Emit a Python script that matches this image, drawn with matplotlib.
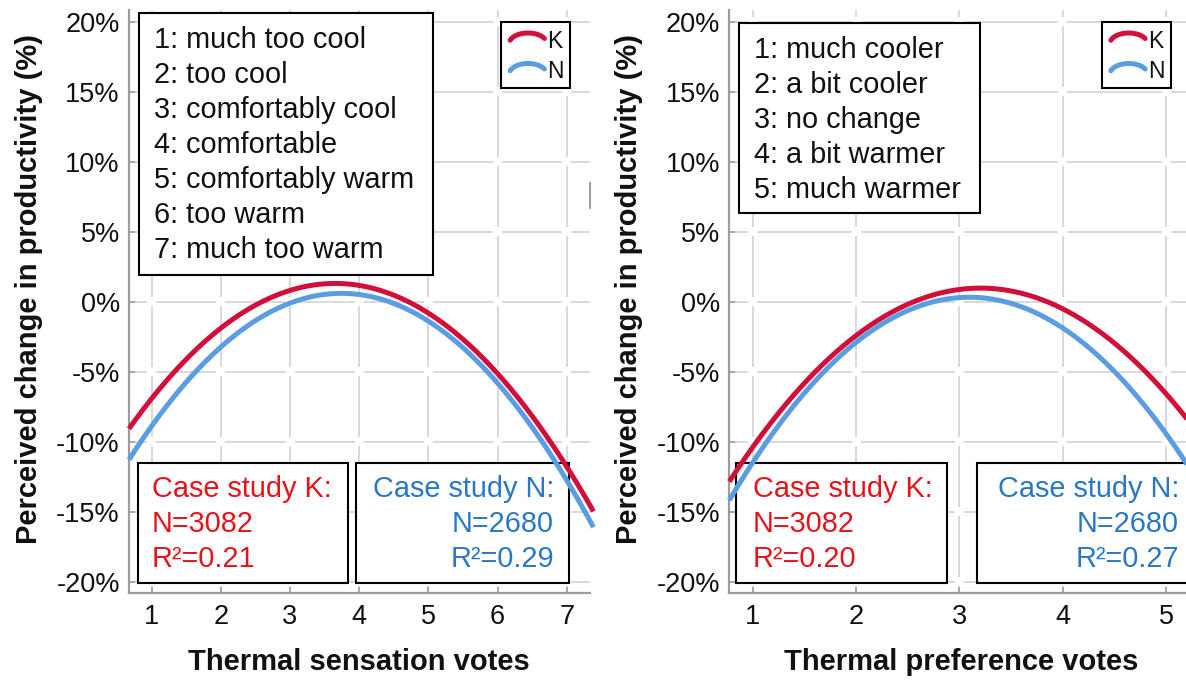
import numpy as np
import matplotlib
matplotlib.use("Agg")
import matplotlib.pyplot as plt
from matplotlib.transforms import Affine2D
from matplotlib.patches import Rectangle

plt.rcParams['font.family'] = ['Liberation Sans', 'DejaVu Sans']

# ---------------- data ----------------
tsv_votes = [1, 2, 3, 4, 5, 6, 7]
tsv_K = [-6.9, -1.9, 0.8, 1.15, -0.8, -5.1, -11.8]
tsv_N = [-8.9, -3.2, -0.1, 0.5, -1.4, -5.8, -12.75]

tpv_votes = [1, 2, 3, 4, 5]
tpv_K = [-10.4, -2.4, 0.85, -0.5, -6.6]
tpv_N = [-11.5, -2.9, 0.3, -1.9, -9.45]

yticks = [-20, -15, -10, -5, 0, 5, 10, 15, 20]
ytick_labels = ["-20%", "-15%", "-10%", "-5%", "0%", "5%", "10%", "15%", "20%"]

tsv_scale = ["1: much too cool", "2: too cool", "3: comfortably cool",
             "4: comfortable", "5: comfortably warm", "6: too warm",
             "7: much too warm"]
tpv_scale = ["1: much cooler", "2: a bit cooler", "3: no change",
             "4: a bit warmer", "5: much warmer"]

tsv_stats_K = ["Case study K:", "N=3082", "R\u00b2=0.21"]
tsv_stats_N = ["Case study N:", "N=2680", "R\u00b2=0.29"]
tpv_stats_K = ["Case study K:", "N=3082", "R\u00b2=0.20"]
tpv_stats_N = ["Case study N:", "N=2680", "R\u00b2=0.27"]

series_names = ["K", "N"]
ylabel = "Perceived change in productivity (%)"
xlabels = ["Thermal sensation votes", "Thermal preference votes"]

# ---------------- style ----------------
C_K = "#d0103a"
C_N = "#5b9de3"
T_K = "#e3151c"
T_N = "#2a78c2"
GRID = "#d0d0d0"
AXC = "#9c9c9c"
TXT = "#111111"

W, H = 1186, 680
fig = plt.figure(figsize=(W / 100, H / 100), dpi=100)
px = Affine2D().scale(1 / W, -1 / H).translate(0, 1) + fig.transFigure

TOP, BOT = 10.0, 592.7
PX_PER_PCT = 14.0
ZERO = 301.7
YLIM = (-(BOT - ZERO) / PX_PER_PCT, (ZERO - TOP) / PX_PER_PCT)


def panel(left_px, right_px, xlim, votes, K, N, xlabel, xlabel_cx,
          scale_lines, scale_box, stats_K, boxK, stats_N, boxN, leg_x):
    ax = fig.add_axes([left_px / W, 1 - BOT / H, (right_px - left_px) / W,
                       (BOT - TOP) / H])
    ax.set_xlim(*xlim)
    ax.set_ylim(*YLIM)
    ax.patch.set_alpha(0)

    # gridlines with small gaps at intersections
    ppx = (right_px - left_px) / (xlim[1] - xlim[0])
    gx = 4.5 / ppx
    gy = 4.5 / PX_PER_PCT
    xb = [xlim[0]] + list(votes) + [xlim[1]]
    for y in yticks:
        for a, b in zip(xb[:-1], xb[1:]):
            a2 = a + gx if a in votes else a
            b2 = b - gx if b in votes else b
            ax.plot([a2, b2], [y, y], color=GRID, lw=1.1, zorder=1,
                    solid_capstyle='butt')
    yb = [YLIM[0]] + yticks + [YLIM[1]]
    for x in votes:
        for a, b in zip(yb[:-1], yb[1:]):
            a2 = a + gy if a in yticks else a
            b2 = b - gy if b in yticks else b
            ax.plot([x, x], [a2, b2], color=GRID, lw=1.1, zorder=1,
                    solid_capstyle='butt')

    for s in ['top', 'right']:
        ax.spines[s].set_visible(False)
    for s in ['left', 'bottom']:
        ax.spines[s].set_color(AXC)
        ax.spines[s].set_linewidth(1.6)

    ax.set_xticks(votes)
    ax.set_xticklabels([str(v) for v in votes])
    ax.set_yticks(yticks)
    ax.set_yticklabels(ytick_labels)
    ax.tick_params(axis='both', direction='in', length=4, width=1.1,
                   color=AXC, labelsize=19.5, labelcolor=TXT)
    ax.tick_params(axis='x', pad=8.0)
    ax.tick_params(axis='y', pad=6.6)

    # quadratic regression curves through the read values
    xs = np.linspace(xlim[0], xlim[1] + 0.05, 400)
    for vals, col in [(K, C_K), (N, C_N)]:
        coef = np.polyfit(votes, vals, 2)
        ax.plot(xs, np.polyval(coef, xs), color=col, lw=3.6, zorder=5,
                solid_capstyle='butt', clip_on=False)

    def box(x0, y0, x1, y1):
        ax.add_patch(Rectangle((x0, y0), x1 - x0, y1 - y0, transform=px,
                               facecolor='white', edgecolor='black', lw=1.5,
                               zorder=3, clip_on=False))

    # scale description box
    bx0, by0, bx1, by1, tx, tb = scale_box
    box(bx0, by0, bx1, by1)
    for i, s in enumerate(scale_lines):
        ax.text(tx, tb + 35 * i, s, transform=px, fontsize=20.8, color=TXT,
                va='baseline', ha='left', zorder=6, clip_on=False)

    # case study boxes
    x0, x1, tx = boxK
    box(x0, 463, x1, 583)
    for i, s in enumerate(stats_K):
        ax.text(tx, 497 + 35 * i, s, transform=px, fontsize=20.8, color=T_K,
                va='baseline', ha='left', zorder=6, clip_on=False)
    x0, x1, tx = boxN
    box(x0, 463, x1, 583)
    for i, s in enumerate(stats_N):
        ax.text(tx, 497 + 35 * i, s, transform=px, fontsize=20.8, color=T_N,
                va='baseline', ha='right', zorder=6, clip_on=False)

    # K / N legend
    box(leg_x, 22, leg_x + 69, 88)
    th = np.radians(np.linspace(200, 330, 40))
    for j, (name, col) in enumerate(zip(series_names, [C_K, C_N])):
        cy = 44 + 30.5 * j
        ax.plot(leg_x + 27 + 19 * np.cos(th), cy + 11 * np.sin(th),
                transform=px, color=col, lw=3.6, solid_capstyle='round',
                zorder=6, clip_on=False)
        ax.text(leg_x + 46, 47.5 + 30.5 * j, name, transform=px, fontsize=16.5,
                color=TXT, va='baseline', ha='left', zorder=6, clip_on=False)

    # axis labels
    fig.text((left_px - 100) / W, 1 - 289 / H, ylabel, rotation=90,
             ha='center', va='center', fontsize=21, fontweight='bold',
             color=TXT)
    fig.text(xlabel_cx / W, 1 - 670 / H, xlabel, ha='center',
             va='baseline', fontsize=21, fontweight='bold', color=TXT)
    return ax


ax1 = panel(129.0, 590.0, (0.672, 7.337), tsv_votes, tsv_K, tsv_N,
            xlabels[0], 358.7, tsv_scale,
            (139.3, 13.3, 433.3, 275.0, 154.0, 48.3),
            tsv_stats_K, (138, 348, 152), tsv_stats_N, (356, 569, 554), 501)

ax2 = panel(729.3, 1190.0, (0.774, 5.229), tpv_votes, tpv_K, tpv_N,
            xlabels[1], 961.0, tpv_scale,
            (739.0, 23.3, 980.0, 213.0, 754.0, 58.3),
            tpv_stats_K, (736, 947.3, 752.6), tpv_stats_N, (977.3, 1194, 1179),
            1101.7)

# small stray mark at the right edge of the left panel
fig.add_artist(plt.Line2D([590 / W, 590 / W], [1 - 183 / H, 1 - 208 / H],
                          color='#8a8a8a', lw=1.2))

fig.savefig("out.png", dpi=100)
